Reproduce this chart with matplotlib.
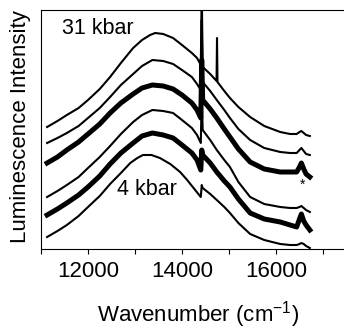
import matplotlib
matplotlib.use("Agg")
import matplotlib.pyplot as plt
from matplotlib.ticker import MultipleLocator

plt.rcParams['font.family'] = ['Liberation Sans', 'DejaVu Sans']

# wavenumber grids (cm^-1) and intensities (arb. units, stacked offsets)
wn_a = [11130, 11350, 11550, 11800, 12000, 12250, 12470, 12700, 12960, 13150, 13320, 13430,
        13600, 13810, 14000, 14210, 14320, 14400, 14420, 14440, 14600, 14735, 14745, 14755,
        14900, 15020, 15200, 15450, 15750, 16090, 16300, 16440, 16500, 16540, 16590, 16640, 16720]
p31 = [122, 128, 134, 141, 149, 160, 172, 186, 201, 209, 214, 216,
       215, 211, 204, 196, 191, 184, 260, 182, 175, 168, 211, 167,
       158, 151, 142, 132, 123, 117, 115, 115, 117, 118, 116, 114, 113]

wn_b = [11130, 11350, 11550, 11800, 12000, 12250, 12470, 12700, 12960, 13150, 13370,
        13600, 13810, 14000, 14210, 14320, 14400, 14420, 14440, 14600, 14740, 14900, 15020,
        15200, 15450, 15750, 16090, 16300, 16440, 16500, 16540, 16590, 16640, 16720]
p2 = [106, 111, 116, 123, 131, 141, 152, 164, 175, 183, 189,
      188, 185, 179, 172, 165, 159, 229, 167, 158, 149, 139, 131,
      120, 109, 101, 97, 96, 96, 99, 101, 98, 95, 94]
p3 = [86, 92, 99, 107, 115, 125, 136, 146, 155, 161, 164,
      163, 160, 154, 146, 139, 131, 189, 149, 140, 131, 120, 112,
      100, 87, 80, 77, 77, 77, 82, 86, 80, 75, 72]
p4 = [52, 58, 64, 72, 81, 92, 103, 115, 127, 134, 139,
      138, 136, 129, 121, 114, 106, 154, 119, 109, 99, 89, 82,
      67, 52, 45, 42, 41, 41, 42, 43, 41, 39, 37]
p5 = [34, 40, 46, 54, 62, 73, 85, 96, 106, 113, 116,
      114, 111, 104, 96, 89, 79, 99, 94, 86, 77, 68, 62,
      50, 36, 30, 27, 24, 22, 30, 35, 28, 24, 19]

wn_c = [11130, 11350, 11550, 11800, 12000, 12250, 12470, 12700, 12900, 13050, 13170, 13350,
        13530, 13750, 13960, 14110, 14280, 14400, 14420, 14440, 14600, 14740, 14900, 15020,
        15200, 15450, 15750, 16090, 16300, 16440, 16500, 16540, 16590, 16640, 16720]
p4k = [12, 18, 24, 33, 42, 53, 65, 76, 86, 91, 94, 94,
       91, 85, 77, 69, 59, 52, 64, 61, 55, 49, 42, 36,
       26, 15, 9, 5, 4, 4, 5, 6, 5, 3, 1]

series = [(wn_a, p31, 1.5), (wn_b, p2, 1.5), (wn_b, p3, 3.6),
          (wn_b, p4, 1.5), (wn_b, p5, 3.6), (wn_c, p4k, 1.5)]

fig = plt.figure(figsize=(3.44, 3.31), dpi=100)
ax = fig.add_axes([41/344, 82/331, 305.5/344, 239/331])

for x, y, lw in series:
    ax.plot(x, y, color='black', lw=lw, solid_joinstyle='round', clip_on=True)

ax.set_xlim(11000, 17500)
ax.set_ylim(0, 239)
ax.xaxis.set_major_locator(MultipleLocator(2000))
ax.xaxis.set_minor_locator(MultipleLocator(1000))
ax.tick_params(axis='x', which='both', direction='out', length=3.5, width=0.8,
               labelsize=16, pad=5)
ax.set_yticks([])
ax.spines['right'].set_visible(False)
for s in ['left', 'top', 'bottom']:
    ax.spines[s].set_linewidth(0.8)

ax.text(12200, 220, '31 kbar', fontsize=15.5, ha='center', va='center')
ax.text(13256, 59.5, '4 kbar', fontsize=15.5, ha='center', va='center')
ax.text(16560, 64, '*', fontsize=10, ha='center', va='center')

fig.text(198/344, 9/331, 'Wavenumber (cm$^{\\mathregular{-1}}$)', fontsize=16,
         ha='center', va='baseline')
fig.text(21/344, 1 - 126.5/331, 'Luminescence Intensity', fontsize=16,
         ha='center', va='center', rotation=90)

fig.savefig('out.png', dpi=100)
